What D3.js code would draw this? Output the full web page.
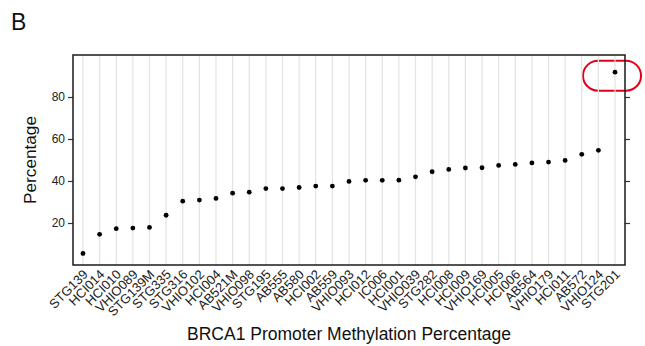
<!DOCTYPE html>
<html>
<head>
<meta charset="utf-8">
<script src="https://cdn.jsdelivr.net/npm/d3@7"></script>
<style>
  html, body { margin: 0; padding: 0; background: #fff; }
  svg { display: block; font-family: "Liberation Sans", Arial, Helvetica, sans-serif; }
</style>
</head>
<body>
<svg id="chart" width="645" height="346"></svg>
<script>
// Sample names, ordered by promoter methylation
const samples = ["STG139", "HCI014", "HCI010", "VHIO089", "STG139M", "STG335", "STG316", "VHIO102",
  "HCI004", "AB521M", "VHIO098", "STG195", "AB555", "AB580", "HCI002", "AB559", "VHIO093", "HCI012",
  "IC006", "HCI001", "VHIO039", "STG282", "HCI008", "HCI009", "VHIO169", "HCI005", "HCI006", "AB564",
  "VHIO179", "HCI011", "AB572", "VHIO124", "STG201"];

// BRCA1 promoter methylation (%)
const methylation = [5.5, 14.6, 17.3, 17.6, 17.9, 23.7, 30.4, 30.9, 31.7, 34.2, 34.7, 36.4, 36.4, 36.9,
  37.6, 37.6, 39.8, 40.3, 40.3, 40.4, 42.0, 44.4, 45.5, 46.2, 46.3, 47.4, 47.9, 48.6, 49.0, 49.8,
  52.7, 54.6, 91.8];

const yTicks = [20, 40, 60, 80];
const highlighted = "STG201";

const svg = d3.select("#chart");
const panel = { left: 73, right: 625, top: 55, bottom: 265 };

const x = d3.scalePoint().domain(samples).range([panel.left, panel.right]).padding(0.6);
const y = d3.scaleLinear().domain([0, 100]).range([panel.bottom, panel.top]);

// Red outline around the highlighted sample
const hx = x(highlighted), hy = y(methylation[samples.indexOf(highlighted)]);
svg.append("rect")
  .attr("x", hx - 32).attr("y", hy - 11.5)
  .attr("width", 58).attr("height", 30)
  .attr("rx", 15).attr("ry", 15)
  .attr("fill", "none").attr("stroke", "#e3001b").attr("stroke-width", 2);

// Vertical grid lines at each sample
svg.append("g").selectAll("line").data(samples).join("line")
  .attr("x1", d => x(d)).attr("x2", d => x(d))
  .attr("y1", panel.top).attr("y2", panel.bottom)
  .attr("stroke", "#e3e3e3").attr("stroke-width", 1.2);

// Points
svg.append("g").selectAll("circle").data(samples).join("circle")
  .attr("cx", d => x(d))
  .attr("cy", (d, i) => y(methylation[i]))
  .attr("r", 2.4)
  .attr("fill", "#000");

// Left axis with labels
const yAxisL = svg.append("g").attr("transform", `translate(${panel.left},0)`)
  .call(d3.axisLeft(y).tickValues(yTicks).tickSize(5).tickPadding(3));
yAxisL.select(".domain").remove();
yAxisL.selectAll(".tick line").attr("stroke", "#333").attr("stroke-width", 1.2);
yAxisL.selectAll(".tick text").attr("font-size", 12).attr("fill", "#222")
  .style("font-family", "'Liberation Sans', Arial, sans-serif");

// Right axis: ticks only
const yAxisR = svg.append("g").attr("transform", `translate(${panel.right},0)`)
  .call(d3.axisRight(y).tickValues(yTicks).tickSize(5).tickFormat(""));
yAxisR.select(".domain").remove();
yAxisR.selectAll(".tick line").attr("stroke", "#333").attr("stroke-width", 1.2);

// Bottom axis: rotated sample labels, no ticks
const xAxis = svg.append("g").attr("transform", `translate(0,${panel.bottom})`)
  .call(d3.axisBottom(x).tickSize(0).tickPadding(0));
xAxis.select(".domain").remove();
xAxis.selectAll(".tick text")
  .attr("font-size", 13).attr("fill", "#222")
  .style("font-family", "'Liberation Sans', Arial, sans-serif")
  .attr("text-anchor", "end")
  .attr("dy", "0.35em")
  .attr("transform", "translate(2,7) rotate(-45)");

// Panel border
svg.append("rect")
  .attr("x", panel.left).attr("y", panel.top)
  .attr("width", panel.right - panel.left).attr("height", panel.bottom - panel.top)
  .attr("fill", "none").attr("stroke", "#1a1a1a").attr("stroke-width", 1.5);

// Axis titles
svg.append("text")
  .attr("x", (panel.left + panel.right) / 2).attr("y", 340)
  .attr("text-anchor", "middle").attr("font-size", 17.5).attr("fill", "#111")
  .text("BRCA1 Promoter Methylation Percentage");

svg.append("text")
  .attr("transform", `translate(36,${(panel.top + panel.bottom) / 2}) rotate(-90)`)
  .attr("text-anchor", "middle").attr("font-size", 17.2).attr("fill", "#111")
  .text("Percentage");

// Panel tag
svg.append("text")
  .attr("x", 11).attr("y", 30)
  .attr("font-size", 23).attr("fill", "#111")
  .text("B");
</script>
</body>
</html>
